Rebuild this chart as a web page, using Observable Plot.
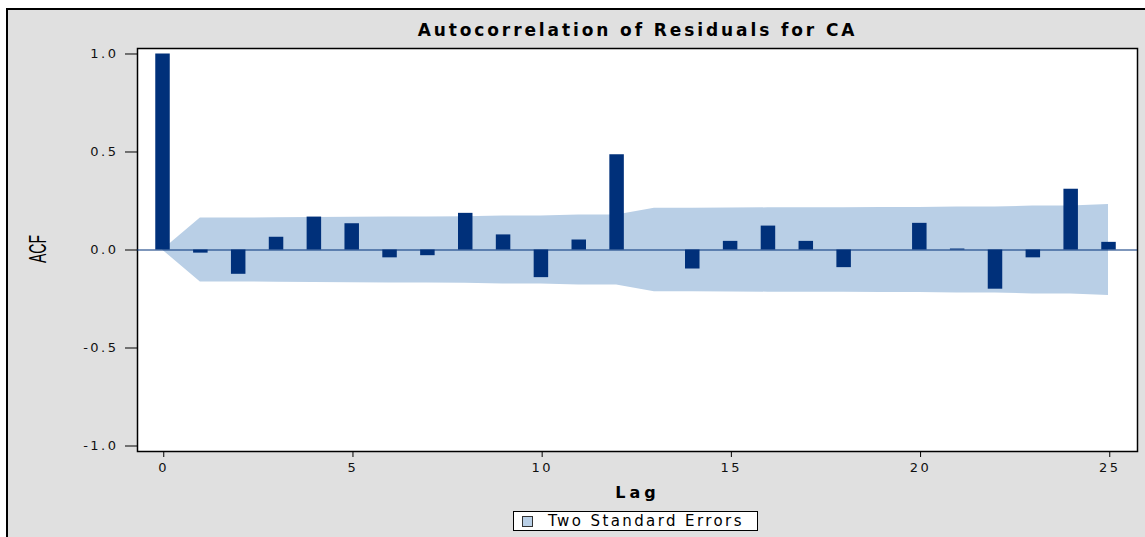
<!DOCTYPE html>
<html>
<head>
<meta charset="utf-8">
<script src="https://cdn.jsdelivr.net/npm/d3@7"></script>
<script src="https://cdn.jsdelivr.net/npm/@observablehq/plot@0.6"></script>
<style>
  html, body { margin: 0; padding: 0; background: #fff; }
  #wrap { position: relative; width: 1145px; height: 537px; overflow: hidden; background: #fff; }
  #bg { position: absolute; left: 6px; top: 8px; width: 1145px; height: 540px; background: #e0e0e0;
        border-left: 2px solid #000; border-top: 2px solid #000; }
  #chart { position: absolute; left: 0; top: 0; }
  #chart svg { background: transparent !important; color: #000; }
  #chart g[aria-label="y-axis tick label"] text,
  #chart g[aria-label="x-axis tick label"] text { font-family: "DejaVu Sans", sans-serif; font-size: 13px; letter-spacing: 2.5px; fill: #111; }
  #title { position: absolute; left: 0; width: 1145px; top: 20px; text-align: center; padding-left: 130px; box-sizing: border-box;
           font-family: "DejaVu Sans", sans-serif; font-weight: bold; font-size: 17px; letter-spacing: 2.9px; color: #000; white-space: nowrap; }
  #xlabel { position: absolute; left: 0; width: 1145px; top: 483px; text-align: center; padding-left: 130px; box-sizing: border-box;
            font-family: "DejaVu Sans", sans-serif; font-weight: bold; font-size: 16px; letter-spacing: 4px; color: #000; }
  #ylabel { position: absolute; left: 38px; top: 249px; width: 0; height: 0; }
  #ylabel span { position: absolute; transform: translate(-50%, -50%) rotate(-90deg) scale(0.88, 1.5);
                 font-family: "Liberation Sans", sans-serif; font-size: 16px; color: #000; white-space: nowrap; }
  #legend { position: absolute; left: 513px; top: 511px; width: 243px; height: 18px; border: 1px solid #000; background: #fff; }
  #legend .sw { position: absolute; left: 8px; top: 4px; width: 9px; height: 9px; border: 1px solid #333; background: #b9cfe6; }
  #legend .tx { position: absolute; left: 34px; top: 0px; line-height: 18px; font-family: "DejaVu Sans", sans-serif; font-size: 15px;
                letter-spacing: 2.4px; color: #000; white-space: nowrap; }
</style>
</head>
<body>
<div id="wrap">
  <div id="bg"></div>
  <div id="chart"></div>
  <div id="title">Autocorrelation of Residuals for CA</div>
  <div id="xlabel">Lag</div>
  <div id="ylabel"><span>ACF</span></div>
  <div id="legend"><div class="sw"></div><div class="tx">Two Standard Errors</div></div>
</div>
<script>
// Data
const lags = [0, 1, 2, 3, 4, 5, 6, 7, 8, 9, 10, 11, 12, 13, 14, 15, 16, 17, 18, 19, 20, 21, 22, 23, 24, 25];
const acfValues = [1.0, -0.016, -0.124, 0.065, 0.168, 0.134, -0.04, -0.029, 0.187, 0.077, -0.141, 0.051, 0.486, 0.0,
                   -0.097, 0.044, 0.122, 0.044, -0.09, 0.0, 0.136, 0.005, -0.2, -0.04, 0.31, 0.039];
const twoStdErr = [0, 0.163, 0.163, 0.164, 0.166, 0.167, 0.168, 0.168, 0.169, 0.173, 0.174, 0.178, 0.179, 0.213,
                   0.213, 0.214, 0.215, 0.216, 0.216, 0.217, 0.217, 0.219, 0.219, 0.224, 0.224, 0.232];
const yTicks = [-1.0, -0.5, 0.0, 0.5, 1.0];
const xTicks = [0, 5, 10, 15, 20, 25];

const rows = lags.map((lag, i) => ({lag, acf: acfValues[i], se: twoStdErr[i]}));

const chart = Plot.plot({
  width: 1145,
  height: 537,
  marginLeft: 137,
  marginRight: 8,
  marginTop: 48,
  marginBottom: 86,
  style: {background: "transparent", color: "#000"},
  x: {type: "linear", domain: [-0.661, 25.766]},
  y: {type: "linear", domain: [-1.028, 1.028]},
  marks: [
    Plot.frame({fill: "white", stroke: "#000", strokeWidth: 1.5}),
    Plot.areaY(rows, {x: "lag", y1: d => -d.se, y2: d => d.se, fill: "#b9cfe6", fillOpacity: 1, curve: "linear"}),
    Plot.ruleY([0], {stroke: "#003078", strokeWidth: 1.2}),
    Plot.ruleX(rows, {x: "lag", y1: 0, y2: "acf", stroke: "#00307a", strokeWidth: 14.5}),
    Plot.axisY(yTicks, {tickFormat: d => d.toFixed(1), tickSize: 12, tickPadding: 7, label: null, stroke: "#000"}),
    Plot.axisX(xTicks, {tickFormat: d => String(d), tickSize: 6, tickPadding: 5, dx: 1.25, label: null, stroke: "#000"})
  ]
});
document.getElementById("chart").appendChild(chart);
</script>
</body>
</html>
